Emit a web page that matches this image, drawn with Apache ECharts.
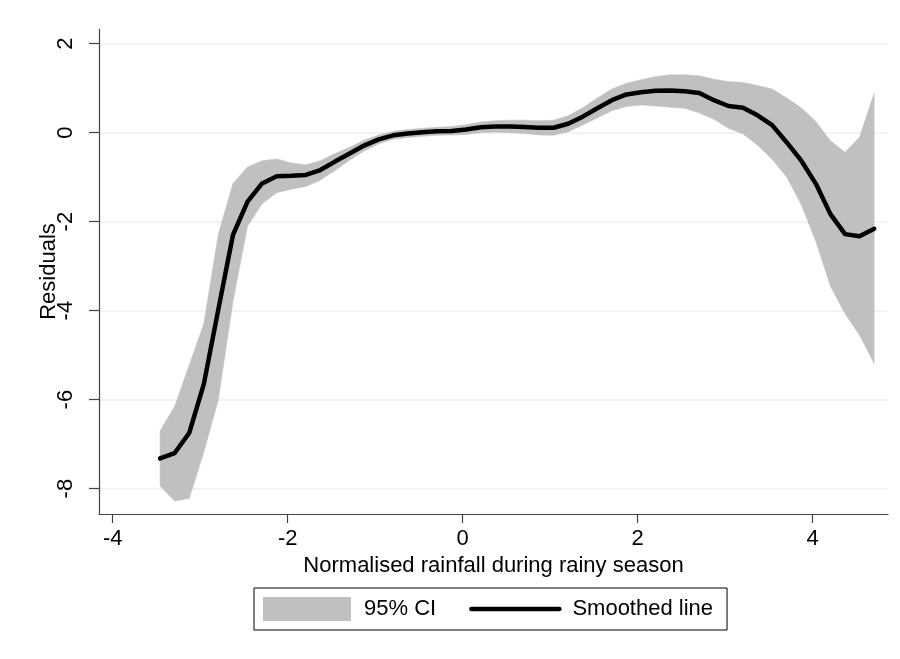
<!DOCTYPE html>
<html>
<head>
<meta charset="utf-8">
<script src="https://cdn.jsdelivr.net/npm/echarts@6/dist/echarts.min.js"></script>
<style>
html,body{margin:0;padding:0;background:#fff;}
#chart{width:900px;height:659px;}
</style>
</head>
<body>
<div id="chart"></div>
<script>
// Grid points (normalised rainfall)
var xs = [-3.459,-3.292,-3.126,-2.959,-2.793,-2.626,-2.459,-2.293,-2.126,-1.960,
          -1.793,-1.627,-1.460,-1.293,-1.127,-0.960,-0.794,-0.627,-0.461,-0.294,
          -0.127,0.039,0.206,0.372,0.539,0.705,0.872,1.039,1.205,1.372,
          1.538,1.705,1.871,2.038,2.205,2.371,2.538,2.704,2.871,3.037,
          3.204,3.370,3.537,3.704,3.870,4.037,4.203,4.370,4.536,4.703];
// Smoothed line
var fit = [-7.32,-7.20,-6.75,-5.65,-3.97,-2.30,-1.55,-1.14,-0.98,-0.97,
           -0.95,-0.84,-0.65,-0.47,-0.29,-0.15,-0.06,-0.02,0.01,0.03,
           0.04,0.07,0.12,0.14,0.14,0.13,0.11,0.11,0.20,0.36,
           0.55,0.73,0.86,0.91,0.94,0.95,0.93,0.89,0.73,0.60,
           0.56,0.39,0.17,-0.22,-0.63,-1.15,-1.83,-2.28,-2.33,-2.16];
// 95% CI upper bound
var ciUpper = [-6.70,-6.15,-5.22,-4.29,-2.27,-1.14,-0.77,-0.63,-0.59,-0.68,
               -0.72,-0.63,-0.47,-0.33,-0.17,-0.05,0.03,0.07,0.10,0.12,
               0.14,0.18,0.24,0.27,0.28,0.28,0.27,0.28,0.38,0.56,
               0.78,0.98,1.11,1.19,1.26,1.30,1.30,1.28,1.20,1.15,
               1.13,1.06,0.98,0.78,0.56,0.25,-0.18,-0.44,-0.10,0.89];
// 95% CI lower bound
var ciLower = [-7.94,-8.28,-8.22,-7.18,-6.00,-3.80,-2.10,-1.60,-1.35,-1.27,
               -1.21,-1.07,-0.85,-0.62,-0.41,-0.25,-0.15,-0.11,-0.08,-0.06,
               -0.05,-0.04,0.00,0.01,0.00,-0.02,-0.05,-0.06,0.02,0.17,
               0.33,0.49,0.59,0.62,0.60,0.57,0.55,0.44,0.30,0.10,
               -0.03,-0.28,-0.60,-1.00,-1.62,-2.45,-3.45,-4.07,-4.55,-5.19];
// Tick labels
var xTicks = [-4,-2,0,2,4];
var yTicks = [-8,-6,-4,-2,0,2];

var FONT = 'Liberation Sans, Arial, Helvetica, sans-serif';
var CI_COLOR = '#c0c0c0';

var bandData = xs.map(function(x,i){return [x, ciLower[i], ciUpper[i]];});
var fitData = xs.map(function(x,i){return [x, fit[i]];});

function renderBand(params, api){
  if (params.dataIndex !== 0) return null;
  var upperPts = [], lowerPts = [];
  for (var i = 0; i < xs.length; i++){
    upperPts.push(api.coord([xs[i], ciUpper[i]]));
    lowerPts.push(api.coord([xs[i], ciLower[i]]));
  }
  var pts = upperPts.concat(lowerPts.reverse());
  return {
    type:'polygon',
    shape:{points:pts},
    style:{fill:CI_COLOR, stroke:CI_COLOR, lineWidth:0.5},
    silent:true
  };
}

var chart = echarts.init(document.getElementById('chart'), null, {renderer:'canvas'});
chart.setOption({
  backgroundColor:'#ffffff',
  animation:false,
  textStyle:{fontFamily:FONT,color:'#000'},
  grid:{left:99,right:12,top:29,bottom:145,containLabel:false,outerBoundsMode:'none'},
  xAxis:{
    type:'value', min:-4.157, max:4.861,
    name:'Normalised rainfall during rainy season',
    nameLocation:'middle', nameGap:41, nameMoveOverlap:false,
    nameTextStyle:{fontFamily:FONT,fontSize:22,color:'#000'},
    axisLine:{show:true,onZero:false,lineStyle:{color:'#444',width:1.2}},
    axisTick:{show:true,length:9,inside:false,customValues:xTicks,lineStyle:{color:'#444',width:1.2}},
    axisLabel:{show:true,customValues:xTicks,margin:14,fontFamily:FONT,fontSize:22,color:'#000'},
    splitLine:{show:false}
  },
  yAxis:{
    type:'value', min:-8.57, max:2.33,
    name:'Residuals', nameLocation:'middle', nameGap:39, nameRotate:90, nameMoveOverlap:false,
    nameTextStyle:{fontFamily:FONT,fontSize:22,color:'#000'},
    axisLine:{show:true,onZero:false,lineStyle:{color:'#444',width:1.2}},
    axisTick:{show:true,length:10,inside:false,customValues:yTicks,lineStyle:{color:'#444',width:1.2}},
    axisLabel:{show:true,customValues:yTicks,rotate:90,margin:22,fontFamily:FONT,fontSize:22,color:'#000'},
    splitLine:{show:true,lineStyle:{color:'#eaf2f3',width:1.5}}
  },
  legend:{
    show:true, left:254, top:588, orient:'horizontal',
    padding:[9,14,9,9], borderColor:'#000', borderWidth:1, borderRadius:0,
    itemWidth:88, itemHeight:24, itemGap:33,
    textStyle:{fontFamily:FONT,fontSize:22,color:'#000',padding:[0,0,0,8]},
    data:[
      {name:'95% CI', icon:'rect', itemStyle:{color:CI_COLOR,borderWidth:0}},
      {name:'Smoothed line', itemStyle:{opacity:0}, lineStyle:{color:'#000',width:4.5}}
    ]
  },
  series:[
    {
      name:'95% CI', type:'custom', data:bandData,
      encode:{x:0, y:[1,2]},
      renderItem:renderBand,
      itemStyle:{color:CI_COLOR},
      silent:true, z:1
    },
    {
      name:'Smoothed line', type:'line', data:fitData, symbol:'none', showSymbol:false,
      itemStyle:{color:'#000'},
      lineStyle:{color:'#000',width:4.5,join:'round',cap:'round'}, z:3
    }
  ]
});
</script>
</body>
</html>
